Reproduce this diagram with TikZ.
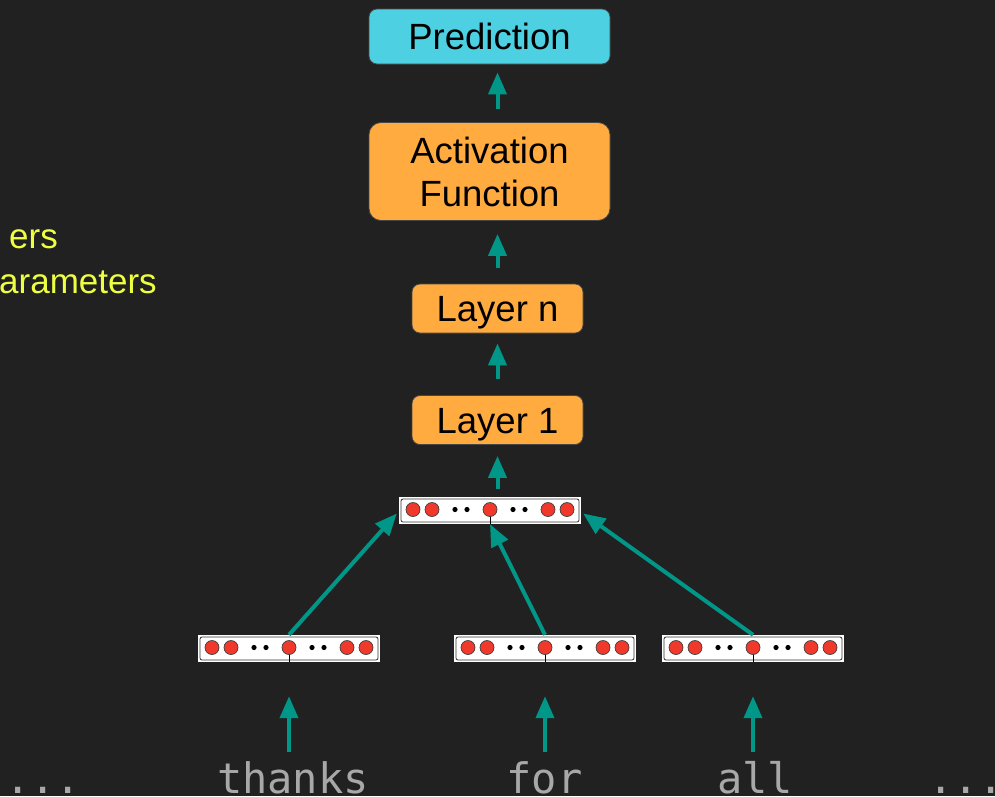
\documentclass[tikz,border=0pt]{standalone}
\usepackage{fontspec}
\setmainfont{Liberation Sans}
\newfontfamily\wordfont{DejaVu Sans Mono}
\usetikzlibrary{arrows.meta,calc}
\definecolor{bg}{HTML}{212121}
\definecolor{predfill}{HTML}{4DD0E1}
\definecolor{layerfill}{HTML}{FFAB40}
\definecolor{arrowteal}{HTML}{009688}
\definecolor{wordgray}{HTML}{A8A8A8}
\definecolor{noteyellow}{HTML}{EEFF41}
\definecolor{unitred}{HTML}{F0392B}
\definecolor{boxedge}{HTML}{474747}
\begin{document}
\begin{tikzpicture}[x=1pt,y=-1pt,
  boxtext/.style={font=\fontsize{36.5}{43}\selectfont, text=black, inner sep=0pt,
                  draw=boxedge, line width=0.8pt, align=center},
  oneline/.style={text height=26pt, text depth=0pt},
  predbox/.style={boxtext, oneline, fill=predfill, rounded corners=8pt,
                  minimum width=241pt, minimum height=55pt},
  actbox/.style={boxtext, fill=layerfill, rounded corners=12pt,
                  minimum width=241pt, minimum height=98pt},
  layerbox/.style={boxtext, oneline, fill=layerfill, rounded corners=8pt,
                  minimum width=171pt, minimum height=49pt},
  arr/.style={draw=arrowteal, line width=4pt, -{Triangle[width=18pt,length=22pt]}},
  word/.style={font=\wordfont\fontsize{42}{48}\selectfont, text=wordgray, inner sep=0pt,
               anchor=base, text height=32pt, text depth=0pt},
  note/.style={font=\fontsize{35}{40}\selectfont, text=noteyellow, inner sep=0pt, anchor=base west},
  vecbox/.style={minimum width=182pt, minimum height=27pt, inner sep=0pt, fill=white,
    path picture={
      \path (path picture bounding box.center) coordinate (vc);
      \draw[black!80, line width=0.8pt, rounded corners=2pt]
        ($(path picture bounding box.south west)+(2,-2)$) rectangle
        ($(path picture bounding box.north east)+(-2,2)$);
      \draw[black, line width=0.9pt] ($(vc)+(0,5)$) -- ($(vc)+(0,13.5)$);
      \foreach \dx in {-77,-58,0,58,77}
        \filldraw[fill=unitred, draw=black!75, line width=0.7pt] ($(vc)+(\dx,-1)$) circle (7pt);
      \foreach \dx in {-35,-23,23,35}
        \fill[black] ($(vc)+(\dx,-1)$) circle (2.6pt);
    }},
]
% canvas
\fill[bg] (0,0) rectangle (995,796);
\path[use as bounding box] (0,0) rectangle (995,796);

% side notes
\node[note] (n1) at (9,248) {ers};
\node[note] (n2) at (-1,293) {arameters};

% network stack
\node[predbox] (pred) at (489.5,36.5) {Prediction};
\node[actbox] (act) at (489.5,171.5) {Activation\\Function};
\node[layerbox] (ln) at (497.5,308.5) {Layer n};
\node[layerbox] (l1) at (497.5,420) {Layer 1};

% pooled vector and word vectors
\node[vecbox] (vm) at (490,510.5) {};
\node[vecbox] (v1) at (289,648.5) {};
\node[vecbox] (v2) at (545,648.5) {};
\node[vecbox] (v3) at (753,648.5) {};

% input words
\node[word] (w0) at (43,793) {...};
\node[word] (w1) at (293,793) {thanks};
\node[word] (w2) at (544.5,793) {for};
\node[word] (w3) at (755,793) {all};
\node[word] (w4) at (966,793) {...};

% upward flow through the stack
\draw[arr, shorten <=13pt, shorten >=8pt] (ln.north |- act.north) -- (ln.north |- pred.south);
\draw[arr, shorten <=16pt, shorten >=13pt] (ln.north) -- (ln.north |- act.south);
\draw[arr, shorten <=16pt, shorten >=10pt] (l1.north) -- (ln.south);
\draw[arr, shorten <=8pt, shorten >=11pt] (l1.south |- vm.north) -- (l1.south);

% word vectors pooled into one
\draw[arr] (v1.north) -- ([xshift=-2pt,yshift=-3pt]vm.west);
\draw[arr] (v2.north) -- (vm.south);
\draw[arr] (v3.north) -- ([xshift=2pt,yshift=-3pt]vm.east);

% words to their vectors
\draw[arr, shorten <=9pt, shorten >=34pt] (v1.south |- w1.north) -- (v1.south);
\draw[arr, shorten <=9pt, shorten >=34pt] (v2.south |- w2.north) -- (v2.south);
\draw[arr, shorten <=9pt, shorten >=34pt] (v3.south |- w3.north) -- (v3.south);
\end{tikzpicture}
\end{document}
